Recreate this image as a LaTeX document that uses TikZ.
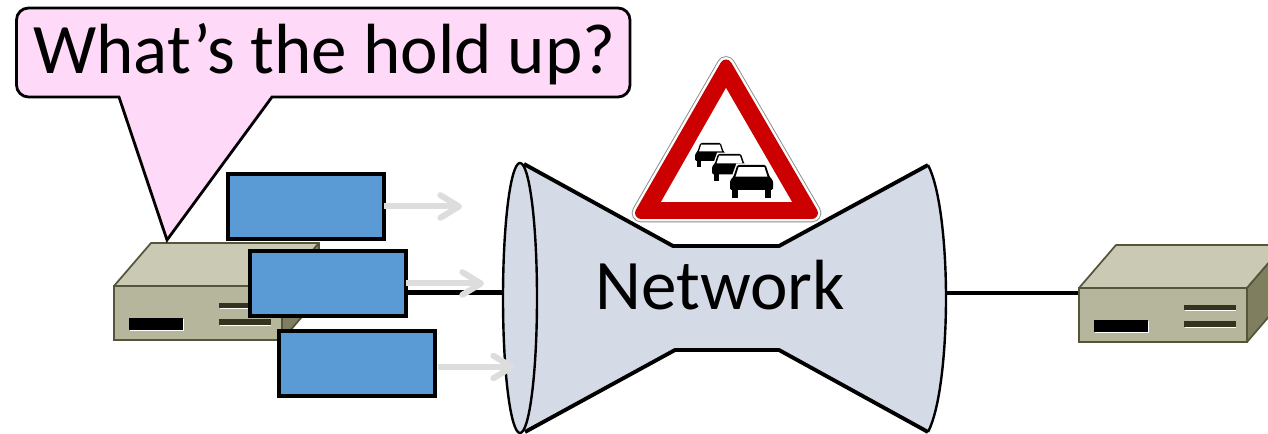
\documentclass[tikz,border=0pt]{standalone}
\usepackage{fontspec}
\setmainfont{Carlito}
\usetikzlibrary{arrows.meta,calc}
\definecolor{netfill}{HTML}{D5DBE6}
\definecolor{bubble}{HTML}{FFD9F8}
\definecolor{boxblue}{HTML}{5B9BD5}
\definecolor{hfront}{HTML}{B6B69C}
\definecolor{htop}{HTML}{CACAB4}
\definecolor{hside}{HTML}{7F7F5F}
\definecolor{hedge}{HTML}{55553C}
\definecolor{hslot}{HTML}{33331F}
\definecolor{signred}{HTML}{CC0000}
\definecolor{arrowgray}{HTML}{DDDDDD}
\tikzset{
  label text/.style={font=\fontsize{53.3pt}{60pt}\selectfont,inner sep=0pt,anchor=base},
  packet/.style={draw=black,fill=boxblue,line width=2.3pt,minimum width=117pt,minimum height=48.75pt,inner sep=0pt,outer sep=0pt},
  flow/.style={draw=arrowgray,line width=4.5pt,-{Straight Barb[length=14pt,width=17pt,round]}},
  wire/.style={draw=black,line width=3.6pt},
  hostfront/.style={draw=hedge,fill=hfront,line width=1.5pt,minimum width=126pt,minimum height=40.5pt,inner sep=0pt,outer sep=0pt,anchor=north west},
  hosttop/.style={draw=hedge,fill=htop,line width=1.3pt,line join=round},
  hostside/.style={draw=hedge,fill=hside,line width=1.3pt,line join=round},
}
\newcommand{\hostat}[3]{%
  \begin{scope}[shift={(#1,#2)}]
    \draw[hosttop] (0,0) -- (37,-43) -- (205,-43) -- (168,0) -- cycle;
    \draw[hostside] (168,0) -- (205,-43) -- (205,11) -- (168,54) -- cycle;
    \node[hostfront] (#3) at (0,0) {};
    \fill[white] (16,33.5) rectangle (70,45.5);
    \fill[black] (15,32.5) rectangle (68.5,44.5);
    \fill[white] (106,18) rectangle (157,23.5);
    \fill[hslot] (105,17) rectangle (157,22.5);
    \fill[white] (106,34.5) rectangle (157,40);
    \fill[hslot] (105,33.5) rectangle (157,39);
  \end{scope}}
\newcommand{\carat}[3]{%
  \begin{scope}[shift={(#1,#2)},x=#3*0.75pt,y=-#3*0.75pt]
    \draw[white,line width=1pt,fill=white] (.16,-.02) -- (.84,-.02) -- (.95,.29) -- (1.02,.36) -- (1.02,.60) -- (-.02,.60) -- (-.02,.36) -- (.05,.29) -- cycle;
    \fill[black] (.05,.56) rectangle (.19,.77);
    \fill[black] (.81,.56) rectangle (.95,.77);
    \fill[black,rounded corners=1pt] (.17,0) -- (.83,0) -- (.92,.27) -- (1,.36) -- (1,.58) -- (0,.58) -- (0,.36) -- (.08,.27) -- cycle;
    \fill[white] (.2,.05) -- (.8,.05) -- (.87,.27) -- (.13,.27) -- cycle;
  \end{scope}}
\begin{document}
\begin{tikzpicture}[x=0.75pt,y=-0.75pt]
\useasboundingbox (0,0) rectangle (1268,434);
\clip (0,0) rectangle (1268,434);

% hosts
\hostat{114}{286}{hostL}
\hostat{1079}{288}{hostR}

% network body
\fill[netfill] (524,164) -- (673,246) -- (779,246) -- (928,165)
   .. controls (941,190) and (946,250) .. (946,298)
   .. controls (946,346) and (941,407) .. (928,432)
   -- (779,350) -- (675,350) -- (525,432) -- cycle;
\draw[black,line width=2.9pt,line join=round] (524,164) -- (673,246) -- (779,246) -- (928,165);
\draw[black,line width=2.9pt,line join=round] (525,432) -- (675,350) -- (779,350) -- (928,432);
\draw[black,line width=1.8pt] (928,165)
   .. controls (941,190) and (946,250) .. (946,298)
   .. controls (946,346) and (941,407) .. (928,432);
\draw[black,fill=netfill,line width=1.8pt] (520,298) ellipse[x radius=17,y radius=135];
\node[label text] (net) at (720,310) {Network};

% connectors
\coordinate (netL) at (503,292.5);
\coordinate (netR) at (946,293);
\coordinate (hostLout) at (282,292.5);
\coordinate (hostRin) at (1078,293);
\draw[wire] (hostLout) -- (netL);
\draw[wire] (netR) -- (hostRin);

% flows and packets
\node[packet] (p1) at (306,206.5) {};
\node[packet] (p2) at (328,283.5) {};
\node[packet] (p3) at (357,363.5) {};
\coordinate (t1) at (462,206.5);
\coordinate (t2) at (484,283.5);
\coordinate (s3) at (438,367);
\coordinate (t3) at (515,367);
\draw[flow] (p1.east) -- (t1);
\draw[flow] (p2.east) -- (t2);
\draw[flow] (s3) -- (t3);

% callout
\path[draw=black,fill=bubble,line width=2.1pt,line join=miter]
  (167,240) -- (119,97) [rounded corners=9pt] -- (16.5,97) -- (16.5,8) -- (630,8) -- (630,97) -- (290,97) [sharp corners] -- (272,97) -- cycle;
\node[label text] (say) at (324.5,74) {What’s the hold up?};

% sign
\draw[draw=black!45,fill=white,line width=14pt,line join=round] (641,213) -- (726,65.5) -- (812,213) -- cycle;
\draw[draw=white,line width=12.6pt,line join=round] (641,213) -- (726,65.5) -- (812,213) -- cycle;
\draw[draw=signred,fill=signred,line width=9pt,line join=round] (641,213) -- (726,65.5) -- (812,213) -- cycle;
\fill[white] (661,202) -- (726,88) -- (792,202) -- cycle;
\carat{695}{143}{31}
\carat{712}{154}{35}
\carat{730}{165}{43}
\end{tikzpicture}
\end{document}
